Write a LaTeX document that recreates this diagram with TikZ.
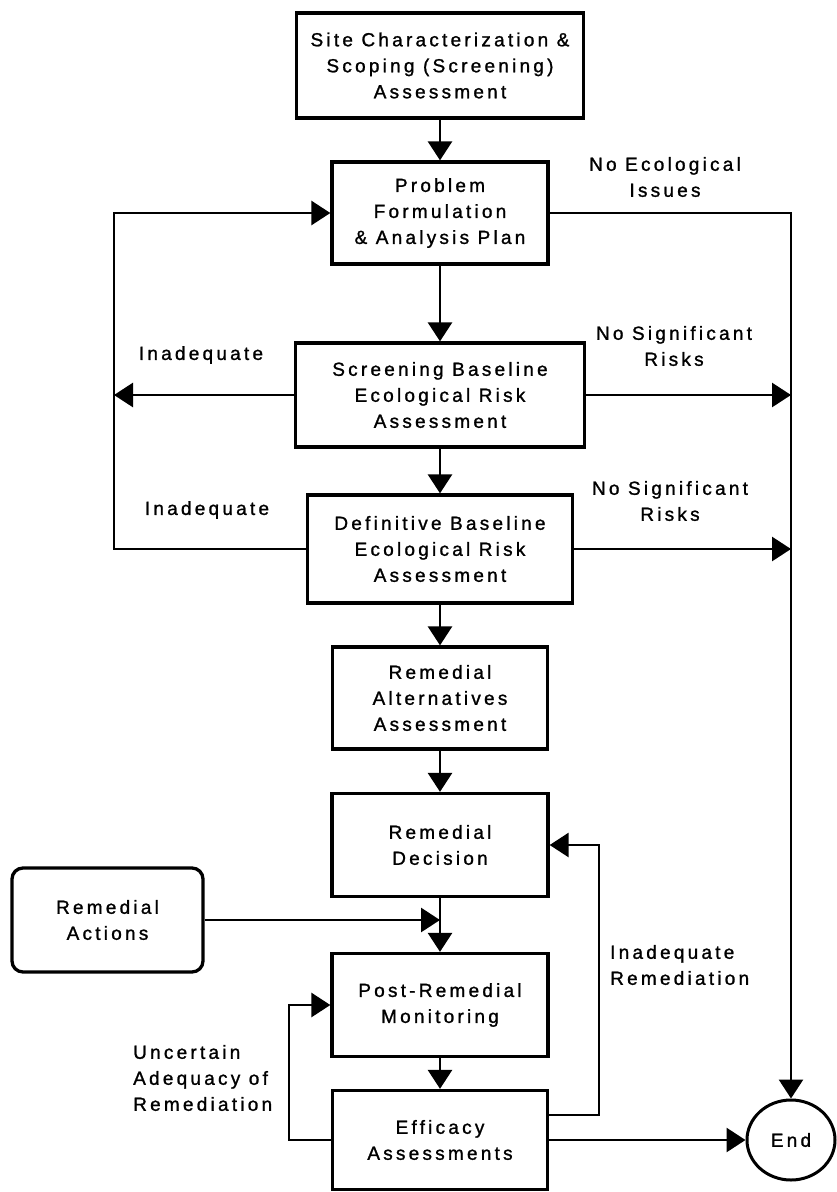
\documentclass[tikz,border=0pt]{standalone}
\usepackage{fontspec}
\usepackage{tikz}
\usetikzlibrary{shapes.geometric, arrows.meta, positioning, calc}
\newfontfamily\diagfont{Liberation Sans}[LetterSpace=17, FakeBold=1.2]
\tikzset{
  block/.style={rectangle, draw=black, fill=white, align=center,
    inner sep=0pt, line width=3.3pt,
    font=\diagfont\fontsize{19}{26}\selectfont},
  roundblock/.style={block, rounded corners=11pt},
  endnode/.style={ellipse, draw=black, inner sep=0pt, line width=3pt,
    minimum width=88pt, minimum height=80pt,
    font=\diagfont\fontsize{19}{26}\selectfont},
  lbl/.style={align=center, inner sep=0pt,
    font=\diagfont\fontsize{19}{26}\selectfont},
  lbll/.style={lbl, align=left, anchor=west},
  arrow/.style={-{Triangle[length=19pt,width=24pt]}, line width=2.8pt},
  line/.style={line width=2.8pt}
}
\begin{document}
\begin{tikzpicture}[x=1pt, y=-1pt]
  \useasboundingbox (0,0) rectangle (837,1192);
  % main column
  \node[block, minimum width=287pt, minimum height=105pt] (site) at (440,65.5)
    {Site Characterization \&\\Scoping (Screening)\\Assessment};
  \node[block, minimum width=216pt, minimum height=102pt] (prob) at (440,213)
    {Problem\\Formulation\\\& Analysis Plan};
  \node[block, minimum width=289pt, minimum height=104pt] (screen) at (440,395)
    {Screening Baseline\\Ecological Risk\\Assessment};
  \node[block, minimum width=265pt, minimum height=108pt] (defin) at (440,549)
    {Definitive Baseline\\Ecological Risk\\Assessment};
  \node[block, minimum width=215pt, minimum height=102pt] (remalt) at (440,698)
    {Remedial\\Alternatives\\Assessment};
  \node[block, minimum width=216pt, minimum height=103pt] (remdec) at (440,845)
    {Remedial\\Decision};
  \node[block, minimum width=216pt, minimum height=103pt] (postrem) at (440,1005)
    {Post-Remedial\\Monitoring};
  \node[block, minimum width=215pt, minimum height=99pt] (effic) at (440,1140)
    {Efficacy\\Assessments};
  \node[roundblock, minimum width=191pt, minimum height=104pt] (remact) at (107.5,920)
    {Remedial\\Actions};
  \node[endnode] (end) at (791,1140) {End};
  % straight down
  \draw[arrow] (site) -- (prob);
  \draw[arrow] (prob) -- (screen);
  \draw[arrow] (screen) -- (defin);
  \draw[arrow] (defin) -- (remalt);
  \draw[arrow] (remalt) -- (remdec);
  \draw[arrow] (remdec) -- (postrem);
  \draw[arrow] (postrem) -- (effic);
  \coordinate (join) at (remact.east -| remdec.south);
  \draw[arrow] (remact.east) -- (join);
  % exits to the right
  \draw[arrow] (prob.east) -| (end.north);
  \draw[arrow] (screen.east) -- (screen.east -| end.north);
  \draw[arrow] (defin.east) -- (defin.east -| end.north);
  \draw[arrow] (effic.east) -- (end.west);
  % loops back
  \coordinate (loopx) at (114,213);
  \draw[arrow] (defin.west) -| (loopx) -- (prob.west);
  \draw[arrow] (screen.west) -- (screen.west -| loopx);
  \coordinate (irx) at (599,845);
  \draw[arrow] ([yshift=25pt]effic.east) -| (irx) -- (remdec.east);
  \coordinate (ulx) at (289,1005);
  \draw[arrow] (effic.west) -| (ulx) -- (postrem.west);
  % labels
  \node[lbl] (noeco) at (665,177) {No Ecological\\Issues};
  \node[lbl] (nosig1) at (674,346) {No Significant\\Risks};
  \node[lbl] (nosig2) at (670,501) {No Significant\\Risks};
  \node[lbl] (inad1) at (201,355) {Inadequate};
  \node[lbl] (inad2) at (207,510) {Inadequate};
  \node[lbll] (inrem) at (610,965) {Inadequate\\Remediation};
  \node[lbll] (uncert) at (133,1078) {Uncertain\\Adequacy of\\Remediation};
\end{tikzpicture}
\end{document}
